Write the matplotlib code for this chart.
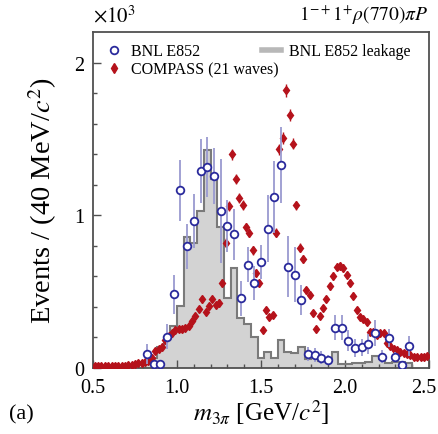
import matplotlib
matplotlib.use("Agg")
import matplotlib.pyplot as plt
import matplotlib.transforms as mtransforms
from matplotlib.lines import Line2D
import numpy as np

plt.rcParams['font.family'] = ['Liberation Serif', 'DejaVu Serif']
plt.rcParams['mathtext.fontset'] = 'stix'

# BNL E852 leakage histogram (40 MeV bins), left edges from 0.80 GeV
leak_edges = [0.80, 0.84, 0.88, 0.92, 0.96, 1.00, 1.04, 1.08, 1.12, 1.16,
              1.20, 1.24, 1.28, 1.32, 1.36, 1.40, 1.44, 1.48, 1.52, 1.56,
              1.60, 1.64, 1.68, 1.72, 1.76, 1.80, 1.84, 1.88, 1.92, 1.96,
              2.00, 2.04, 2.08, 2.12, 2.16, 2.20, 2.24, 2.28, 2.32, 2.36, 2.40]
leak_vals = [40, 65, 135, 200, 275, 405, 855, 815, 1030, 1428,
             1240, 925, 455, 655, 330, 285, 205, 65, 105, 65,
             180, 105, 95, 135, 55, 70, 45, 55, 105, 25,
             25, 30, 30, 40, 80, 55, 30, 40, 40, 30]

# BNL E852 points
bnl_m = [0.82, 0.86, 0.90, 0.94, 0.98, 1.02, 1.06, 1.10, 1.14, 1.18,
         1.22, 1.26, 1.30, 1.34, 1.38, 1.42, 1.46, 1.50, 1.54, 1.58,
         1.62, 1.66, 1.70, 1.74, 1.78, 1.82, 1.86, 1.90, 1.94, 1.98,
         2.02, 2.06, 2.10, 2.14, 2.18, 2.22, 2.26, 2.30, 2.34, 2.38]
bnl_y = [90, 26, 26, 205, 483, 1163, 796, 962, 1290, 1318,
         1257, 1027, 927, 874, 457, 677, 557, 693, 913, 1121,
         1327, 664, 610, 446, 92, 85, 68, 52, 262, 262,
         179, 129, 136, 157, 229, 74, 197, 70, 20, 146]
bnl_err = [65, 20, 20, 82, 128, 199, 148, 175, 210, 197,
           184, 340, 170, 164, 115, 115, 110, 110, 218, 235,
           250, 202, 180, 98, 44, 44, 40, 35, 82, 82,
           66, 60, 55, 65, 87, 40, 60, 33, 20, 65]

# COMPASS (21 waves), 20 MeV bins from 0.51 GeV
compass_m = np.round(np.arange(0.51, 2.50, 0.02), 2)
compass_y = [10, 10, 10, 11, 11, 12, 12, 13, 14, 15,
             17, 20, 24, 30, 34, 40, 48, 64, 108, 122,
             140, 180, 208, 230, 250, 252, 256, 262, 277, 304,
             339, 387, 448, 369, 405, 452, 412, 428, 555, 820,
             1060, 1399, 1239, 1113, 1069, 922, 885, 769, 621, 555,
             245, 376, 332, 348, 885, 1431, 1506, 1819, 1659, 1469,
             1064, 787, 715, 507, 479, 361, 256, 339, 391, 452,
             536, 601, 664, 666, 654, 610, 557, 474, 378, 332,
             320, 298, 236, 236, 215, 229, 229, 162, 146, 125,
             114, 107, 98, 92, 85, 72, 70, 70, 74, 78]
compass_err = [4, 4, 4, 4, 4, 4, 4, 4, 5, 5,
               5, 6, 6, 7, 8, 8, 9, 10, 12, 12,
               13, 14, 15, 15, 16, 16, 16, 16, 17, 18,
               18, 20, 22, 20, 21, 22, 21, 21, 24, 28,
               32, 36, 34, 32, 32, 30, 30, 28, 25, 24,
               16, 20, 18, 19, 30, 36, 38, 42, 40, 38,
               32, 28, 26, 22, 22, 19, 16, 18, 20, 21,
               23, 24, 25, 25, 25, 24, 23, 21, 19, 18,
               18, 17, 15, 15, 15, 15, 15, 13, 12, 11,
               11, 10, 10, 10, 9, 9, 8, 8, 9, 9]

fig = plt.figure(figsize=(4.39, 4.35), dpi=100)
ax = fig.add_axes([0.212, 0.152, 0.765, 0.772])

ax.stairs(leak_vals, leak_edges, fill=True, color='#d3d3d3', zorder=1)
ax.stairs(leak_vals, leak_edges, fill=False, color='#7a7a7a', lw=1.5,
          baseline=0, zorder=2)

red = '#b5121b'
blue = '#2a2a9c'
ax.errorbar(compass_m, compass_y, yerr=compass_err, fmt='d', ms=4.5,
            color=red, ecolor=red, elinewidth=1.0, capsize=0, zorder=3)
ax.errorbar(bnl_m, bnl_y, yerr=bnl_err, fmt='o', ms=5.5, mfc='white',
            mec=blue, mew=1.3, ecolor='#9a9ad0', elinewidth=1.3, capsize=0,
            zorder=4)

ax.set_xlim(0.5, 2.5)
ax.set_ylim(0, 2200)
ax.set_xticks([0.5, 1.0, 1.5, 2.0, 2.5])
ax.set_xticklabels(['0.5', '1.0', '1.5', '2.0', '2.5'])
ax.set_xticks(np.arange(0.5, 2.5, 0.1), minor=True)
ax.set_yticks([0, 1000, 2000])
ax.set_yticklabels(['0', '1', '2'])
ax.set_yticks(np.arange(0, 2200, 200), minor=True)
ax.tick_params(which='both', direction='in', color='#505050',
               labelsize=14.5, top=False, right=False)
ax.tick_params(axis='x', which='major', pad=7)
ax.tick_params(axis='y', which='major', pad=6)
ax.tick_params(which='major', length=6, width=1.0)
ax.tick_params(which='minor', length=3, width=1.0)
for s in ax.spines.values():
    s.set_color('#505050')
    s.set_linewidth(1.3)

# keep the last x label inside the canvas
last = ax.get_xticklabels()[-1]
last.set_transform(last.get_transform() +
                   mtransforms.ScaledTranslation(-5 / 100, 0, fig.dpi_scale_trans))

ax.set_xlabel(r'$m_{3\pi}$ [GeV/$c^2$]', fontsize=18, labelpad=0)
ax.set_ylabel(r'Events / (40 MeV/$c^2$)', fontsize=20.5, labelpad=11)

fig.text(0.212, 0.937, r'$\times 10^3$', fontsize=15, ha='left', va='bottom')
fig.text(0.977, 0.937, r'$1^{-+}1^{+}\rho(770)\pi P$', fontsize=14,
         ha='right', va='bottom')
fig.text(0.02, 0.025, '(a)', fontsize=16, ha='left', va='bottom')

h_bnl = Line2D([], [], marker='o', ls='none', ms=5.5, mfc='white', mec=blue, mew=1.3)
h_comp = Line2D([], [], marker='d', ls='none', ms=5, color=red)
h_leak = Line2D([], [], color='#b8b8b8', lw=4)
leg1 = ax.legend([h_bnl, h_comp], ['BNL E852', 'COMPASS (21 waves)'],
                 loc='upper left', bbox_to_anchor=(0.0, 1.0), frameon=False,
                 fontsize=11.5, handlelength=1.2, handletextpad=0.5,
                 labelspacing=0.15, borderaxespad=0.3)
ax.add_artist(leg1)
ax.legend([h_leak], ['BNL E852 leakage'],
          loc='upper left', bbox_to_anchor=(0.47, 1.0), frameon=False,
          fontsize=11.5, handlelength=1.2, handletextpad=0.5,
          borderaxespad=0.3)

fig.savefig('out.png', dpi=100)
